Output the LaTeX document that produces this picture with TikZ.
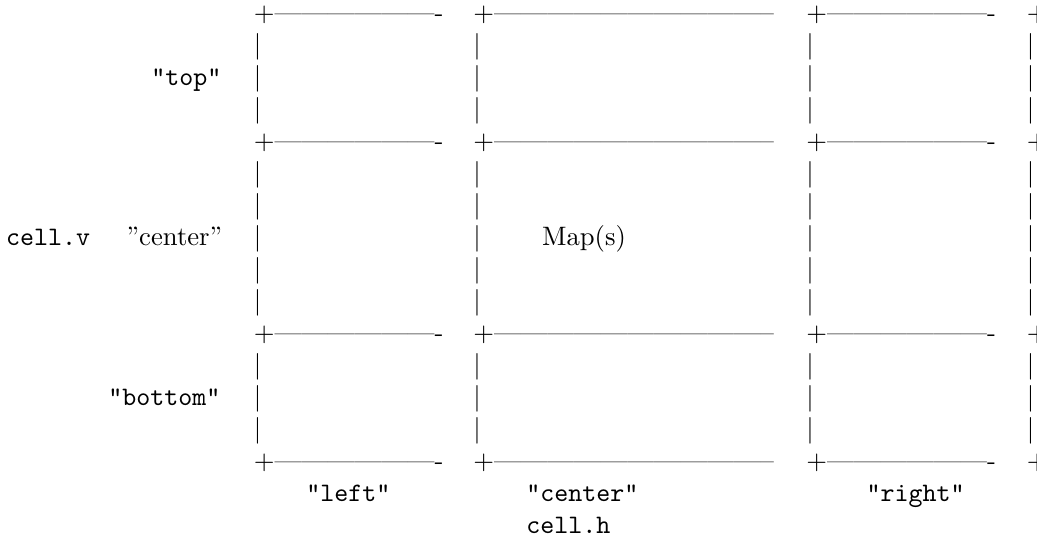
\documentclass[tikz,border=0pt]{standalone}
\begin{document}
\begin{tikzpicture}[x=1pt,y=-1pt,
  txt/.style={inner sep=0pt,outer sep=0pt,anchor=base west},
  lab/.style={txt,font=\ttfamily}]
% page frame (y grows downwards)
\useasboundingbox (0,0) rectangle (388.9,201.4);
\clip (0,0) rectangle (388.9,201.4);
% border runs of the grid, one text line every 12pt
\def\runshort{+——————-}
\def\runlong{+——————————–}
\def\runtail{+——}
\foreach \k in {0,4,10,14}{
  \node[txt] (ga-\k) at (95.2,{7.94+12*\k}) {\runshort};
  \node[txt] (gb-\k) at (177.5,{7.94+12*\k}) {\runlong};
  \node[txt] (gc-\k) at (302.4,{7.94+12*\k}) {\runshort};
  \node[txt] (gd-\k) at (385.1,{7.94+12*\k}) {\runtail};
}
% vertical bars on the left side of every cell
\foreach \k in {1,2,3,5,6,7,8,9,11,12,13}{
  \node[txt] (va-\k) at (95.2,{7.94+12*\k}) {|};
  \node[txt] (vb-\k) at (177.5,{7.94+12*\k}) {|};
  \node[txt] (vc-\k) at (302.4,{7.94+12*\k}) {|};
  \node[txt] (vd-\k) at (385.1,{7.94+12*\k}) {|};
}
% row labels
\node[lab] (vtop) at (56.8,{7.94+12*2}) {"top"};
\node[lab] (vname) at (2.3,{7.94+12*7}) {cell.v};
\node[txt] (vcenter) at (47.5,{7.94+12*7}) {”center”};
\node[lab] (vbottom) at (40.6,{7.94+12*12}) {"bottom"};
% cell content
\node[txt] (maps) at (203.3,{7.94+12*7}) {Map(s)};
% column labels
\node[lab] (hleft) at (114.9,{7.94+12*15}) {"left"};
\node[lab] (hcenter) at (197.4,{7.94+12*15}) {"center"};
\node[lab] (hright) at (325.0,{7.94+12*15}) {"right"};
\node[lab] (hname) at (197.4,{7.94+12*16}) {cell.h};
\end{tikzpicture}
\end{document}
